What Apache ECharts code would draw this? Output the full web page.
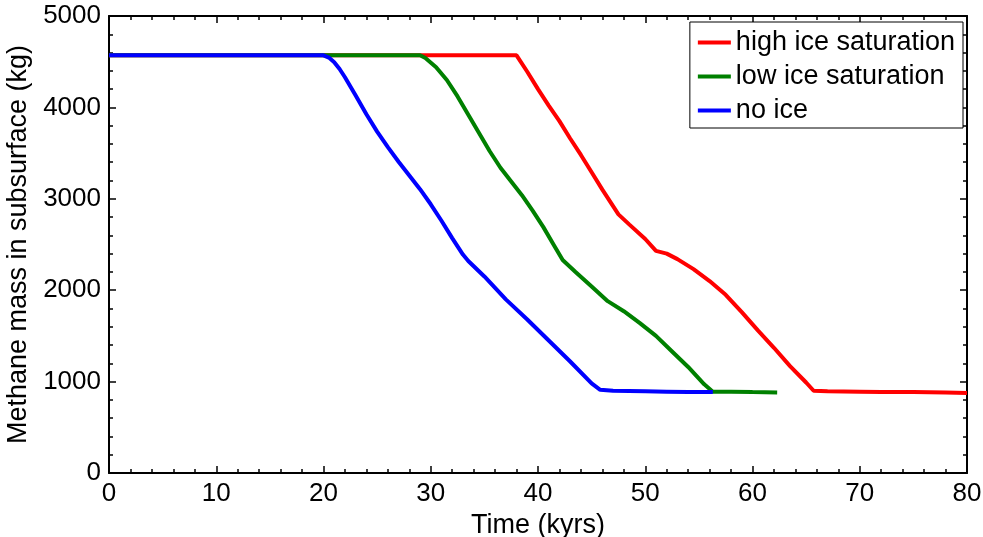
<!DOCTYPE html>
<html>
<head>
<meta charset="utf-8">
<script src="https://cdn.jsdelivr.net/npm/echarts@6/dist/echarts.min.js"></script>
<style>
html,body{margin:0;padding:0;background:#fff;}
#main{width:983px;height:537px;}
</style>
</head>
<body>
<div id="main"></div>
<script>
// time (kyrs), methane mass (kg)
var highIce = [[0,4570],[38,4570],[39,4390],[40,4200],[41,4020],[42,3850],[43,3660],[44,3480],[45,3290],[46,3100],[47,2920],[47.5,2830],
	[48.5,2720],[50,2560],[51,2430],[52,2400],[53,2340],[54.5,2230],[56,2100],[57.5,1950],[59,1760],[60.5,1560],
	[62,1370],[63.5,1170],[65,990],[65.7,900],[67,895],[70,890],[72,885],[75,885],[78,880],[80,875]];
var lowIce = [[0,4570],[29,4570],[29.5,4540],[30.5,4440],[31.5,4300],[32.5,4120],[33.5,3920],[34.5,3720],[35.5,3520],
	[36.5,3340],[37.5,3190],[38.5,3040],[39.5,2870],[40.5,2690],[41.5,2490],[42.3,2330],[43.5,2200],[45,2040],
	[46.5,1880],[48,1770],[49.5,1640],[51,1500],[52.5,1330],[54,1160],[55.5,970],[56.3,890],[58,890],[60,885],[62.3,880]];
var noIce = [[0,4570],[20,4570],[20.5,4545],[21,4495],[21.5,4420],[22,4330],[23,4130],[24,3925],[25,3735],[26,3565],[27,3405],[28,3255],
	[29,3105],[30,2940],[31,2760],[32,2570],[33,2390],[33.5,2320],[35,2150],[37,1900],[39,1680],[41,1450],
	[43,1220],[45,980],[45.8,910],[47,900],[50,895],[52,890],[54,885],[56.3,885]];
var seriesNames = ['high ice saturation','low ice saturation','no ice'];
var seriesColors = ['#ff0000','#008000','#0000ff'];

var myChart = echarts.init(document.getElementById('main'));
var font = 'Liberation Sans, Arial, sans-serif';
var axisLine = {show:true,onZero:false,lineStyle:{color:'#000',width:2}};
var tick = {show:true,inside:true,length:7,lineStyle:{color:'#000',width:1.5}};
var minor = {show:true,splitNumber:5,length:4,lineStyle:{color:'#000',width:1.5}};
var plain = function(v){ return String(v); };

function mkSeries(name,data,color){
	return {
		name:name,
		type:'line',
		data:data,
		showSymbol:false,
		symbol:'none',
		smooth:false,
		lineStyle:{color:color,width:4},
		itemStyle:{color:color}
	};
}

var option = {
	animation:false,
	backgroundColor:'#fff',
	grid:{left:109,right:16,top:16,bottom:64,outerBoundsMode:'none',containLabel:false},
	legend:{
		orient:'vertical',
		right:20,
		top:22,
		padding:[7,8,4,8],
		itemGap:7,
		itemWidth:33,
		itemHeight:4,
		icon:'rect',
		borderColor:'#000',
		borderWidth:1,
		borderRadius:0,
		backgroundColor:'#fff',
		textStyle:{fontFamily:font,fontSize:27,color:'#000'},
		data:seriesNames
	},
	xAxis:[{
		type:'value',min:0,max:80,interval:10,
		name:'Time (kyrs)',nameLocation:'middle',nameGap:33,
		nameTextStyle:{fontFamily:font,fontSize:27,color:'#000'},
		axisLine:axisLine,axisTick:tick,minorTick:minor,
		axisLabel:{fontFamily:font,fontSize:26,color:'#000',margin:8,formatter:plain},
		splitLine:{show:false}
	},{
		type:'value',min:0,max:80,interval:10,position:'top',
		axisLine:axisLine,axisTick:tick,minorTick:minor,
		axisLabel:{show:false},splitLine:{show:false}
	}],
	yAxis:[{
		type:'value',min:0,max:5000,interval:1000,
		name:'Methane mass in subsurface (kg)',nameLocation:'middle',nameGap:66,
		nameTextStyle:{fontFamily:font,fontSize:27,color:'#000'},
		axisLine:axisLine,axisTick:tick,minorTick:minor,
		axisLabel:{fontFamily:font,fontSize:26,color:'#000',margin:8,formatter:plain},
		splitLine:{show:false}
	},{
		type:'value',min:0,max:5000,interval:1000,position:'right',
		axisLine:axisLine,axisTick:tick,minorTick:minor,
		axisLabel:{show:false},splitLine:{show:false}
	}],
	series:[
		mkSeries(seriesNames[0],highIce,seriesColors[0]),
		mkSeries(seriesNames[1],lowIce,seriesColors[1]),
		mkSeries(seriesNames[2],noIce,seriesColors[2])
	]
};
myChart.setOption(option);
</script>
</body>
</html>
